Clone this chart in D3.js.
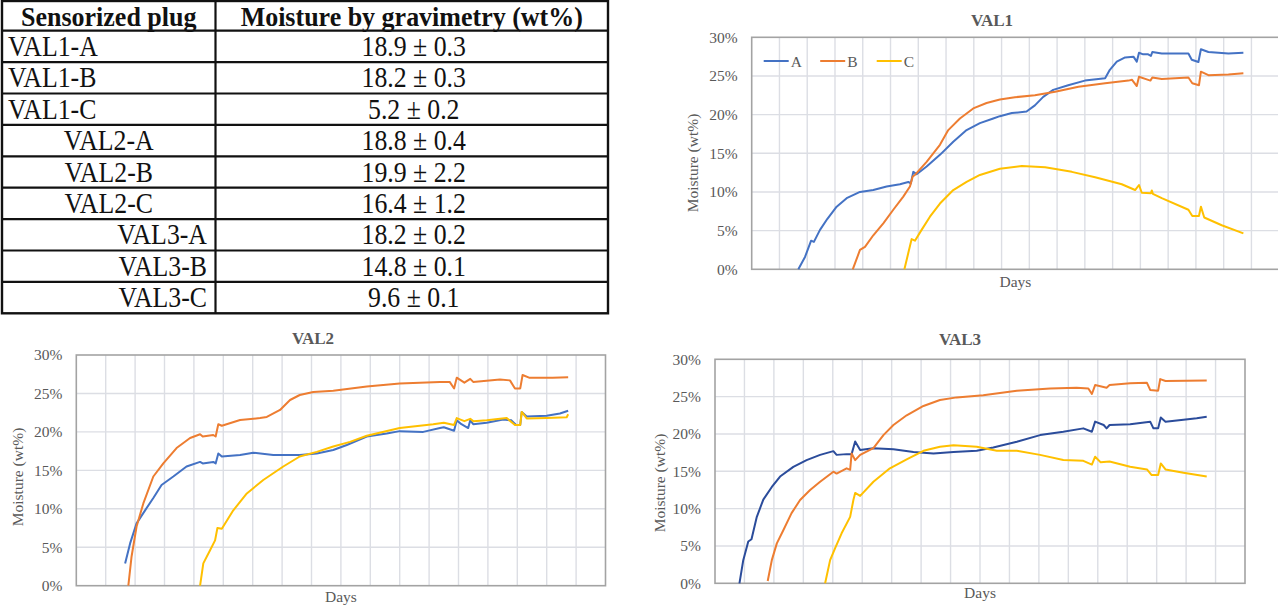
<!DOCTYPE html>
<html>
<head>
<meta charset="utf-8">
<script src="https://cdn.jsdelivr.net/npm/d3@7"></script>
<style>
  body { margin: 0; background: #fff; }
  svg { display: block; font-family: "Liberation Serif", "Tinos", "Times New Roman", "DejaVu Serif", serif; }
</style>
</head>
<body>
<svg id="fig" width="1278" height="605"></svg>
<script>
// ---- table data ----
const tableHeader = ["Sensorized plug", "Moisture by gravimetry (wt%)"];
const plugNames = ["VAL1-A", "VAL1-B", "VAL1-C", "VAL2-A", "VAL2-B", "VAL2-C", "VAL3-A", "VAL3-B", "VAL3-C"];
const plugMoisture = ["18.9 ± 0.3", "18.2 ± 0.3", "5.2 ± 0.2", "18.8 ± 0.4", "19.9 ± 2.2", "16.4 ± 1.2", "18.2 ± 0.2", "14.8 ± 0.1", "9.6 ± 0.1"];

// ---- chart data: [day (grid units), moisture wt%] ----
const seriesNames = ["A", "B", "C"];
const yTicks = [0, 5, 10, 15, 20, 25, 30];

const val1A = [[1.68,0],[1.92,1.6],[2.14,3.7],[2.24,3.55],[2.46,5.1],[2.72,6.5],[3.06,8.1],[3.42,9.2],[3.9,10.0],[4.38,10.25],[4.86,10.7],[5.34,11.0],[5.64,11.3],[5.73,11.1],[5.82,12.6],[5.94,12.3],[6.3,13.3],[6.78,14.8],[7.26,16.5],[7.74,18.0],[8.22,18.9],[8.7,19.5],[8.94,19.8],[9.37,20.2],[9.9,20.4],[10.2,21.2],[10.5,22.3],[10.86,23.2],[11.4,23.8],[12.0,24.4],[12.73,24.7],[12.9,25.8],[13.15,26.85],[13.45,27.4],[13.75,27.5],[13.87,26.85],[13.95,28.0],[14.1,27.8],[14.28,27.8],[14.38,27.6],[14.43,28.1],[14.77,27.9],[15.73,27.9],[15.85,27.1],[16.09,26.8],[16.18,28.45],[16.45,28.1],[17.17,27.9],[17.71,28.0]];
const val1B = [[3.64,0],[3.9,2.5],[4.08,2.9],[4.38,4.4],[4.74,5.95],[5.1,7.7],[5.46,9.4],[5.7,10.7],[5.8,12.0],[5.88,12.2],[6.3,13.9],[6.78,16.1],[7.08,18.0],[7.5,19.5],[7.98,20.8],[8.46,21.5],[8.94,21.95],[9.48,22.25],[10.2,22.5],[10.93,22.95],[11.77,23.6],[12.73,24.05],[13.57,24.4],[13.7,24.5],[13.87,23.7],[13.95,24.9],[14.28,24.5],[14.36,24.4],[14.43,24.8],[14.77,24.6],[15.73,24.8],[15.87,24.05],[16.11,23.8],[16.18,25.55],[16.45,25.1],[17.17,25.2],[17.71,25.35]];
const val1C = [[5.5,0],[5.64,2.1],[5.76,3.9],[5.88,3.7],[6.12,5.1],[6.42,6.8],[6.78,8.5],[7.26,10.25],[7.74,11.3],[8.22,12.2],[8.94,13.0],[9.73,13.35],[10.57,13.2],[11.53,12.6],[12.37,11.9],[13.33,11.0],[13.81,10.25],[13.95,10.9],[14.05,9.9],[14.38,9.85],[14.41,10.2],[14.45,9.75],[14.77,9.2],[15.73,7.7],[15.87,6.9],[16.11,6.9],[16.18,8.1],[16.3,6.7],[16.93,5.7],[17.71,4.65]];

const val2A = [[1.66,2.9],[1.83,5.5],[2.05,8.1],[2.34,9.8],[2.62,11.4],[2.9,13.1],[3.3,14.2],[3.75,15.5],[4.21,16.1],[4.3,15.9],[4.66,16.1],[4.74,15.9],[4.83,17.2],[4.95,16.8],[5.57,17.0],[6.02,17.3],[6.7,17.0],[7.6,17.0],[8.18,17.2],[8.74,17.65],[9.2,18.3],[9.88,19.4],[10.56,19.8],[11.0,20.1],[11.8,20.0],[12.37,20.5],[12.5,20.6],[12.85,20.15],[12.94,21.5],[13.1,21.0],[13.33,20.5],[13.4,21.5],[13.5,21.0],[13.96,21.2],[14.52,21.6],[14.8,21.5],[14.96,20.9],[15.1,20.9],[15.15,22.6],[15.32,22.0],[16.0,22.1],[16.45,22.4],[16.73,22.75]];
const val2B = [[1.77,0],[1.88,3.8],[2.05,7.7],[2.28,10.7],[2.62,14.2],[2.96,15.9],[3.41,17.9],[3.87,19.2],[4.21,19.7],[4.3,19.4],[4.66,19.6],[4.74,19.4],[4.83,21.0],[4.95,20.8],[5.57,21.55],[6.25,21.8],[6.48,21.95],[6.93,22.85],[7.27,24.15],[7.6,24.8],[8.06,25.2],[8.74,25.35],[9.88,25.9],[11.0,26.3],[12.37,26.5],[12.7,26.5],[12.85,25.65],[12.94,27.05],[13.2,26.4],[13.4,26.9],[13.5,26.5],[14.41,26.8],[14.75,26.7],[14.92,25.65],[15.1,25.65],[15.18,27.4],[15.4,27.05],[16.2,27.05],[16.73,27.1]];
const val2C = [[4.21,0],[4.32,2.9],[4.55,4.6],[4.72,5.9],[4.8,7.5],[4.95,7.4],[5.34,9.8],[5.8,12.0],[6.36,13.75],[7.04,15.5],[7.6,16.8],[8.18,17.4],[8.74,18.1],[9.31,18.7],[9.88,19.5],[11.0,20.5],[12.14,21.0],[12.5,21.2],[12.85,20.9],[12.94,21.8],[13.2,21.4],[13.4,21.7],[13.5,21.4],[13.96,21.5],[14.64,21.8],[14.92,20.9],[15.1,20.9],[15.15,22.6],[15.32,21.75],[16.0,21.8],[16.68,21.9],[16.73,22.3]];

const val3A = [[0.83,0],[0.96,3.1],[1.13,5.6],[1.24,5.9],[1.42,8.9],[1.64,11.2],[1.93,12.9],[2.21,14.3],[2.66,15.6],[3.11,16.5],[3.57,17.2],[4.02,17.7],[4.13,17.2],[4.47,17.3],[4.64,17.3],[4.76,19.0],[4.93,17.85],[5.38,18.1],[6.06,17.95],[6.74,17.6],[7.42,17.4],[8.1,17.6],[8.89,17.75],[9.45,18.2],[10.25,18.95],[11.04,19.85],[11.83,20.3],[12.51,20.75],[12.8,20.3],[12.91,21.65],[13.2,21.2],[13.3,20.75],[13.4,21.2],[14.1,21.3],[14.78,21.65],[14.89,20.75],[15.05,20.75],[15.14,22.2],[15.3,21.65],[15.91,21.9],[16.36,22.1],[16.7,22.3]];
const val3B = [[1.79,0.3],[1.93,3.1],[2.1,5.35],[2.32,7.1],[2.6,9.4],[2.89,11.15],[3.23,12.5],[3.57,13.6],[4.02,14.95],[4.13,14.7],[4.47,15.4],[4.59,15.2],[4.64,17.4],[4.76,16.5],[4.93,17.2],[5.38,18.1],[5.72,19.85],[6.06,21.2],[6.51,22.5],[7.08,23.75],[7.64,24.55],[8.21,24.9],[9.11,25.2],[10.25,25.8],[11.38,26.1],[12.28,26.2],[12.68,26.1],[12.8,25.35],[12.91,26.55],[13.3,26.2],[13.4,26.55],[14.1,26.8],[14.67,26.85],[14.78,25.9],[15.05,25.8],[15.12,27.35],[15.3,27.1],[16.7,27.15]];
const val3C = [[3.74,0],[3.91,3.1],[4.08,4.7],[4.3,6.7],[4.59,8.9],[4.7,11.15],[4.76,12.1],[4.93,11.7],[5.38,13.6],[5.94,15.4],[6.51,16.6],[7.08,17.75],[7.64,18.3],[8.1,18.5],[8.89,18.3],[9.57,17.75],[10.25,17.75],[11.04,17.2],[11.83,16.5],[12.51,16.4],[12.8,15.9],[12.91,16.95],[13.1,16.2],[13.4,16.3],[14.1,15.6],[14.67,15.25],[14.83,14.5],[15.05,14.5],[15.14,16.05],[15.3,15.25],[15.91,14.8],[16.7,14.3]];

const svg = d3.select("#fig");
const grey = "#595959";

// ---------------- table ----------------
const tbl = svg.append("g");
const colEdges = [2, 215.5, 608];
const headTop = 1, headBottom = 30.7;
const rowBand = d3.scaleBand().domain(plugNames).range([headBottom, 313.3]);
const stretch = "scale(1,1.14)";

tbl.append("rect")
  .attr("x", colEdges[0]).attr("y", headTop)
  .attr("width", colEdges[2] - colEdges[0]).attr("height", rowBand.range()[1] - headTop)
  .attr("fill", "none").attr("stroke", "#111").attr("stroke-width", 2.4);

tbl.append("line")
  .attr("x1", colEdges[1]).attr("x2", colEdges[1])
  .attr("y1", headTop).attr("y2", rowBand.range()[1])
  .attr("stroke", "#111").attr("stroke-width", 2.2);

tbl.selectAll(".rowline").data(plugNames).join("line")
  .attr("class", "rowline")
  .attr("x1", colEdges[0]).attr("x2", colEdges[2])
  .attr("y1", d => rowBand(d)).attr("y2", d => rowBand(d))
  .attr("stroke", "#111").attr("stroke-width", 2.2);

// header: slightly less stretched so it stays inside the top edge
tbl.selectAll(".head").data(tableHeader).join("text")
  .attr("class", "head")
  .attr("transform", (d, i) => `translate(${(colEdges[i] + colEdges[i + 1]) / 2},25.5) scale(1,1.07)`)
  .attr("text-anchor", "middle")
  .attr("font-weight", "bold")
  .attr("font-size", 26)
  .attr("fill", "#111")
  .text(d => d);

// label placement differs per validation group
function labelPos(name) {
  if (name.startsWith("VAL1")) return [colEdges[0] + 6, "start"];
  if (name.startsWith("VAL2")) return [(colEdges[0] + colEdges[1]) / 2, "middle"];
  return [colEdges[1] - 8.5, "end"];
}

tbl.selectAll(".plug").data(plugNames).join("text")
  .attr("class", "plug")
  .attr("transform", d => `translate(${labelPos(d)[0]},${rowBand(d) + rowBand.bandwidth() / 2 + 9.5}) ${stretch}`)
  .attr("text-anchor", d => labelPos(d)[1])
  .attr("font-size", 25.8)
  .attr("fill", "#111")
  .text(d => d);

tbl.selectAll(".val").data(plugMoisture).join("text")
  .attr("class", "val")
  .attr("transform", (d, i) => `translate(${(colEdges[1] + colEdges[2]) / 2 + 2},${rowBand(plugNames[i]) + rowBand.bandwidth() / 2 + 9.5}) ${stretch}`)
  .attr("text-anchor", "middle")
  .attr("font-size", 25.8)
  .attr("fill", "#111")
  .text(d => d);

// ---------------- charts ----------------
const charts = [
  { title: "VAL1", series: [val1A, val1B, val1C], colors: ["#4472C4", "#ED7D31", "#FFC000"],
    left: 751.7, right: 1279.2, top: 37.3, bottom: 269.3, days: 19,
    titleX: 992, titleY: 26, yLabX: 698, yLabY: 163, daysY: 287, legend: true },
  { title: "VAL2", series: [val2A, val2B, val2C], colors: ["#4472C4", "#ED7D31", "#FFC000"],
    left: 76.3, right: 605.5, top: 355, bottom: 585.7, days: 18,
    titleX: 313, titleY: 344, yLabX: 23, yLabY: 477, daysY: 602, legend: false },
  { title: "VAL3", series: [val3A, val3B, val3C], colors: ["#2B4C9B", "#ED7D31", "#FFC000"],
    left: 715, right: 1245, top: 359.3, bottom: 583.3, days: 18,
    titleX: 960, titleY: 345, yLabX: 665, yLabY: 483, daysY: 598, legend: false }
];

function drawChart(c) {
  const g = svg.append("g");
  const x = d3.scaleLinear().domain([0, c.days]).range([c.left, c.right]);
  const y = d3.scaleLinear().domain([0, 30]).range([c.bottom, c.top]);

  g.append("g").selectAll("line").data(d3.range(1, c.days)).join("line")
    .attr("x1", d => x(d)).attr("x2", d => x(d))
    .attr("y1", c.top).attr("y2", c.bottom)
    .attr("stroke", "#dcdee4").attr("stroke-width", 1.4);

  g.append("g").selectAll("line").data(yTicks.slice(1, -1)).join("line")
    .attr("x1", c.left).attr("x2", c.right)
    .attr("y1", d => y(d)).attr("y2", d => y(d))
    .attr("stroke", "#dcdee4").attr("stroke-width", 1.4);

  g.append("rect")
    .attr("x", c.left).attr("y", c.top)
    .attr("width", c.right - c.left).attr("height", c.bottom - c.top)
    .attr("fill", "none").attr("stroke", "#a3a3a3").attr("stroke-width", 1.6);

  const yAxis = g.append("g")
    .attr("transform", `translate(${c.left},0)`)
    .call(d3.axisLeft(y).tickValues(yTicks).tickSize(0).tickPadding(14).tickFormat(d => d + "%"));
  yAxis.select(".domain").remove();
  yAxis.attr("font-family", null).attr("font-size", 15.5).style("color", grey);

  const line = d3.line().x(d => x(d[0])).y(d => y(d[1]));
  g.append("g").selectAll("path").data(c.series).join("path")
    .attr("d", line)
    .attr("fill", "none")
    .attr("stroke", (d, i) => c.colors[i])
    .attr("stroke-width", 2)
    .attr("stroke-linejoin", "round");

  g.append("text")
    .attr("x", c.titleX).attr("y", c.titleY)
    .attr("text-anchor", "middle").attr("font-weight", "bold")
    .attr("font-size", 17).attr("fill", grey)
    .text(c.title);

  g.append("text")
    .attr("x", (c.left + c.right) / 2).attr("y", c.daysY)
    .attr("text-anchor", "middle").attr("font-size", 15.5).attr("fill", grey)
    .text("Days");

  g.append("text")
    .attr("transform", `translate(${c.yLabX},${c.yLabY}) rotate(-90)`)
    .attr("text-anchor", "middle").attr("font-size", 15.5).attr("fill", grey)
    .text("Moisture (wt%)");

  if (c.legend) {
    const lg = g.append("g").attr("transform", `translate(${c.left + 12},61)`);
    const item = lg.selectAll("g").data(seriesNames).join("g")
      .attr("transform", (d, i) => `translate(${i * 56.5},0)`);
    item.append("line").attr("x1", 0).attr("x2", 25).attr("y1", 0).attr("y2", 0)
      .attr("stroke", (d, i) => c.colors[i]).attr("stroke-width", 2);
    item.append("text").attr("x", 27).attr("y", 5.5)
      .attr("font-size", 15.5).attr("fill", grey).text(d => d);
  }
}

charts.forEach(drawChart);
</script>
</body>
</html>
